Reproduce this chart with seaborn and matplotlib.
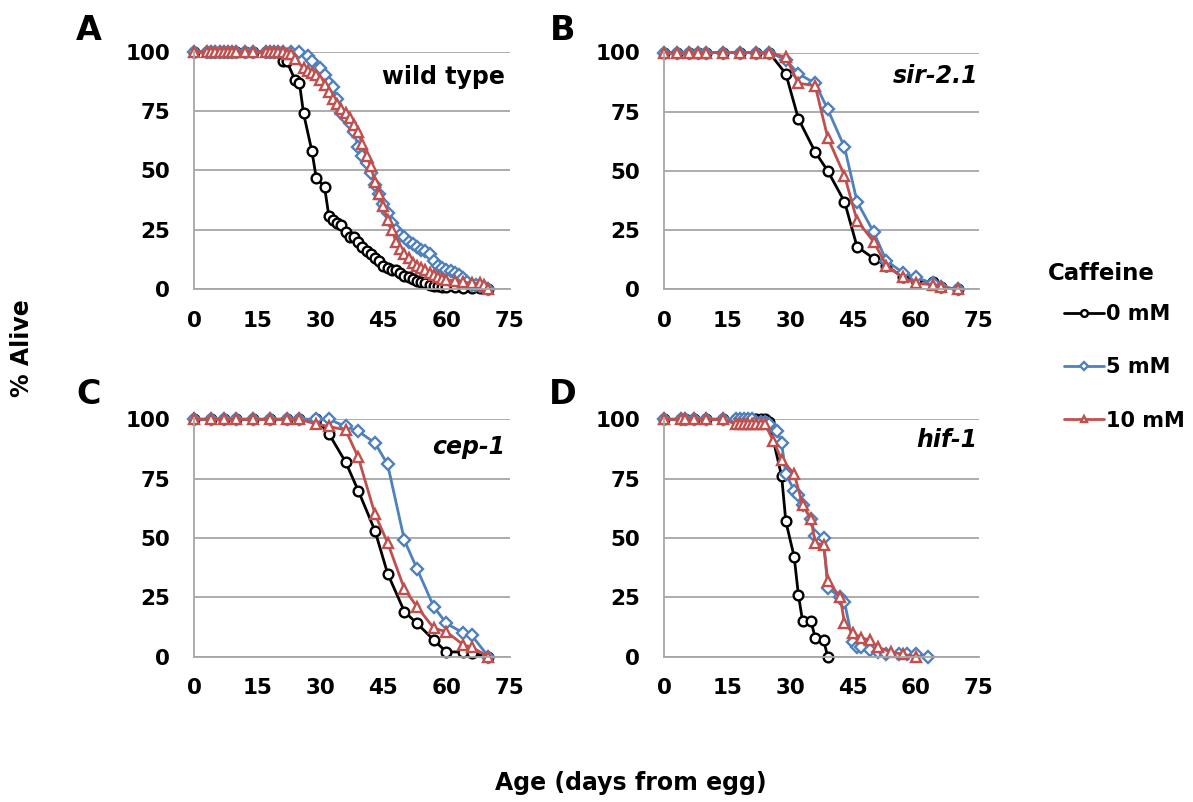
import numpy as np
import matplotlib
matplotlib.use("Agg")
import matplotlib.pyplot as plt
import seaborn as sns

# ---- data (days from egg, % alive) ----
# A: wild type
WT_DAYS_0 = [0, 3, 4, 5, 6, 7, 8, 9, 10, 12, 14, 17, 18, 19, 20, 21, 22, 24, 25, 26, 28, 29, 31, 32,
             33, 34, 35, 36, 37, 38, 39, 40, 41, 42, 43, 44, 45, 46, 47, 48, 49, 50, 51, 52, 53,
             54, 55, 56, 57, 58, 59, 60, 62, 64, 66, 68, 70]
WT_ALIVE_0 = [100, 100, 100, 100, 100, 100, 100, 100, 100, 100, 100, 100, 100, 100, 100, 96, 96, 88,
              87, 74, 58, 47, 43, 31, 29, 28, 27, 24, 22, 22, 20, 18, 16, 15, 13, 12, 10, 9, 8, 8,
              7, 5.5, 5, 4.5, 3.5, 3, 2.5, 2, 1.5, 1.5, 1, 1, 1, 0.5, 0.5, 0.5, 0]
WT_DAYS_5 = [0, 3, 4, 5, 6, 7, 8, 9, 10, 12, 14, 17, 18, 19, 20, 21, 23, 25, 27, 28, 30, 31, 32, 33,
             34, 35, 36, 37, 38, 39, 40, 41, 42, 43, 44, 45, 46, 47, 48, 49, 50, 51, 52, 53, 54,
             55, 56, 57, 58, 59, 60, 61, 62, 63, 64, 65, 66, 67, 68, 69, 70]
WT_ALIVE_5 = [100, 100, 100, 100, 100, 100, 100, 100, 100, 100, 100, 100, 100, 100, 100, 100, 100,
              100, 98, 96, 93, 90, 87, 85, 80, 74, 72, 70, 66, 60, 56, 53, 49, 44, 40, 36, 32, 28,
              25, 23, 22, 20, 19, 18, 16.5, 16, 15, 12, 10, 9, 8, 7.5, 7, 6, 4.6, 3, 2, 1.8, 1.5,
              1, 0]
WT_DAYS_10 = [0, 3, 4, 5, 6, 7, 8, 9, 10, 12, 14, 17, 18, 19, 20, 21, 22, 23, 24, 26, 27, 28, 29,
              30, 31, 32, 33, 34, 35, 36, 37, 38, 39, 40, 41, 42, 43, 44, 45, 46, 47, 48, 49, 50,
              51, 52, 53, 54, 55, 56, 57, 58, 59, 60, 62, 64, 66, 68, 69, 70]
WT_ALIVE_10 = [100, 100, 100, 100, 100, 100, 100, 100, 100, 100, 100, 100, 100, 100, 100, 100, 99,
               99, 97, 93, 92, 91, 90, 88, 86, 83, 80, 78, 76, 74, 72, 69, 66, 61, 56, 52, 45, 40,
               35, 29, 25, 20, 17, 15, 13, 11, 10, 9, 8, 7, 6, 5, 4.5, 4, 3.5, 3, 2.5, 2.5, 2, 0]

# B: sir-2.1
SIR_DAYS = [0, 3, 6, 8, 10, 14, 18, 22, 25, 29, 32, 36, 39, 43, 46, 50, 53, 57, 60, 64, 66, 70]
SIR_ALIVE_0 = [100, 100, 100, 100, 100, 100, 100, 100, 100, 91, 72, 58, 50, 37, 18, 13, 10, 5, 4,
               3, 1, 0]
SIR_ALIVE_5 = [100, 100, 100, 100, 100, 100, 100, 100, 100, 97, 91, 87, 76, 60, 37, 24, 12, 7, 5,
               2.5, 1, 0]
SIR_ALIVE_10 = [100, 100, 100, 100, 100, 100, 100, 100, 100, 98, 87, 86, 64, 48, 29, 20, 10, 5,
                2.5, 2, 1, 0]

# C: cep-1
CEP_DAYS = [0, 4, 7, 10, 14, 18, 22, 25, 29, 32, 36, 39, 43, 46, 50, 53, 57, 60, 64, 66, 70]
CEP_ALIVE_0 = [100, 100, 100, 100, 100, 100, 100, 100, 100, 94, 82, 70, 53, 35, 19, 14, 7, 2, 2,
               1.5, 0]
CEP_ALIVE_5 = [100, 100, 100, 100, 100, 100, 100, 100, 100, 100, 97, 95, 90, 81, 49, 37, 21, 14,
               10, 9, 0]
CEP_ALIVE_10 = [100, 100, 100, 100, 100, 100, 100, 100, 98, 97, 95.5, 84, 60, 48, 28.5, 21, 12,
                10.5, 5, 4, 0]

# D: hif-1
HIF_DAYS_0 = [0, 4, 5, 7, 10, 14, 17, 18, 19, 20, 21, 22, 23, 24, 25, 28, 29, 31, 32, 33, 35, 36,
              38, 39]
HIF_ALIVE_0 = [100, 100, 100, 100, 100, 100, 100, 100, 100, 100, 100, 100, 100, 100, 99, 76, 57,
               42, 26, 15, 15, 8, 7, 0]
HIF_DAYS_5 = [0, 4, 5, 7, 10, 14, 17, 18, 19, 20, 21, 22, 23, 24, 25, 27, 28, 29, 31, 32, 33, 35,
              36, 38, 39, 42, 43, 45, 46, 47, 49, 51, 53, 56, 58, 60, 63]
HIF_ALIVE_5 = [100, 100, 100, 100, 100, 100, 100, 100, 100, 100, 100, 99, 99, 99, 98, 95, 90, 77,
               70, 68, 64, 58, 51, 50, 29, 25, 23, 6, 4, 4, 3, 2, 1, 1, 1, 1, 0]
HIF_DAYS_10 = [0, 4, 5, 7, 10, 14, 17, 18, 19, 20, 21, 22, 23, 24, 26, 28, 31, 33, 35, 36, 38, 39,
               42, 43, 45, 47, 49, 51, 54, 57, 60]
HIF_ALIVE_10 = [100, 100, 100, 100, 100, 100, 98, 98, 98, 98, 98, 98, 98, 98, 91, 83, 77, 64, 58,
                48, 47, 32, 25, 14, 10, 8, 7, 4, 2, 1, 0]

DOSES = ["0 mM", "5 mM", "10 mM"]
COLORS = ["#000000", "#4F81BD", "#C0504D"]
MARKERS = ["o", "D", "^"]
XTICKS = [0, 15, 30, 45, 60, 75]
YTICKS = [0, 25, 50, 75, 100]

PANELS = [
    ("A", "wild type", "normal", [(WT_DAYS_0, WT_ALIVE_0), (WT_DAYS_5, WT_ALIVE_5), (WT_DAYS_10, WT_ALIVE_10)]),
    ("B", "sir-2.1", "italic", [(SIR_DAYS, SIR_ALIVE_0), (SIR_DAYS, SIR_ALIVE_5), (SIR_DAYS, SIR_ALIVE_10)]),
    ("C", "cep-1", "italic", [(CEP_DAYS, CEP_ALIVE_0), (CEP_DAYS, CEP_ALIVE_5), (CEP_DAYS, CEP_ALIVE_10)]),
    ("D", "hif-1", "italic", [(HIF_DAYS_0, HIF_ALIVE_0), (HIF_DAYS_5, HIF_ALIVE_5), (HIF_DAYS_10, HIF_ALIVE_10)]),
]

sns.set_style("white")
plt.rcParams["font.family"] = ["DejaVu Sans"]
plt.rcParams["font.weight"] = "bold"
plt.rcParams["text.color"] = "black"
plt.rcParams["legend.labelcolor"] = "black"

W, H = 1193, 802
fig = plt.figure(figsize=(W / 100, H / 100), dpi=100)

# axes boxes in pixels: left, top, right, bottom
boxes = [(194.3, 51.7, 509.5, 289.3), (664.3, 52.5, 978.6, 289.3),
         (194.3, 419.3, 509.5, 656.7), (664.3, 419.3, 978.6, 656.7)]
letter_pos = [(89, 30), (563, 30), (89, 395), (563, 395)]
tag_pos = [(0.986, 0.893), (0.998, 0.90), (0.986, 0.883), (0.995, 0.913)]

grey = "#A6A6A6"
axes = []
for i, (letter, tag, style, series) in enumerate(PANELS):
    l, t, r, b = boxes[i]
    ax = fig.add_axes([l / W, 1 - b / H, (r - l) / W, (b - t) / H])
    axes.append(ax)
    for (days, alive), dose, col, mk in zip(series, DOSES, COLORS, MARKERS):
        sns.lineplot(x=days, y=alive, ax=ax, color=col, linewidth=2, errorbar=None,
                     marker=mk, markersize=7 if mk != "D" else 6, markerfacecolor="white",
                     markeredgecolor=col, markeredgewidth=1.7, clip_on=False, label=dose)
    if ax.get_legend() is not None:
        ax.get_legend().remove()
    ax.set_xlim(0, 75)
    ax.set_ylim(0, 100)
    ax.set_xticks(XTICKS)
    ax.set_yticks(YTICKS)
    ax.set_xlabel("")
    ax.set_ylabel("")
    ax.yaxis.grid(True, color=grey, linewidth=1.3)
    ax.set_axisbelow(True)
    for s in ["top", "right"]:
        ax.spines[s].set_visible(False)
    for s in ["left", "bottom"]:
        ax.spines[s].set_color(grey)
        ax.spines[s].set_linewidth(1.3)
    ax.tick_params(axis="both", direction="out", length=6.5, width=1.3, color=grey,
                   labelsize=15.5, labelcolor="black")
    ax.tick_params(axis="y", pad=11)
    ax.tick_params(axis="x", pad=9)
    for lab in ax.get_xticklabels() + ax.get_yticklabels():
        lab.set_fontweight("bold")
    ax.text(tag_pos[i][0], tag_pos[i][1], tag, transform=ax.transAxes, ha="right", va="center",
            fontsize=17, fontweight="bold", fontstyle=style, color="black")
    fig.text(letter_pos[i][0] / W, 1 - letter_pos[i][1] / H, letter, ha="center", va="center",
             fontsize=24, fontweight="bold", color="black")

fig.text(22 / W, 1 - 348 / H, "% Alive", rotation=90, ha="center", va="center",
         fontsize=17, fontweight="bold", color="black")
fig.text(631 / W, 1 - 783 / H, "Age (days from egg)", ha="center", va="center",
         fontsize=17, fontweight="bold", color="black")

fig.text(1101 / W, 1 - 273 / H, "Caffeine", ha="center", va="center", fontsize=16.5,
         fontweight="bold", color="black")
handles, labels = axes[0].get_legend_handles_labels()
fig.legend(handles, labels, loc="upper left", bbox_to_anchor=(1064 / W, 1 - 304 / H),
           bbox_transform=fig.transFigure, frameon=False, labelspacing=1.6,
           handlelength=1.9, handletextpad=0.12, borderpad=0, borderaxespad=0,
           markerscale=0.7, prop={"weight": "bold", "size": 15})

fig.savefig("out.png", dpi=100)
